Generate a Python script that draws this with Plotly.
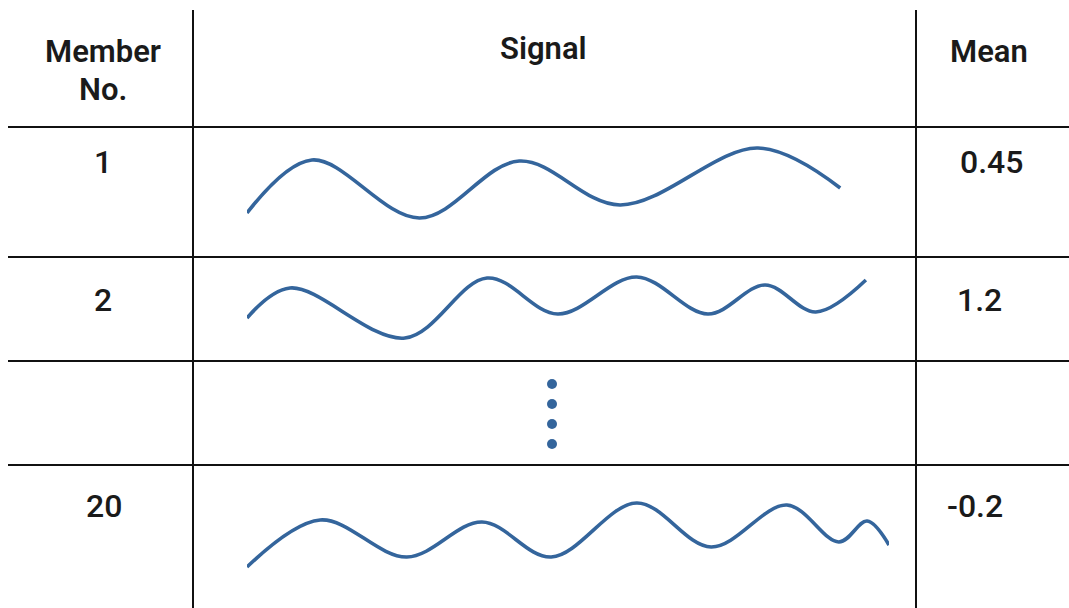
import plotly.graph_objects as go

W, H = 1069, 608

# ---------------- data ----------------
header_lines = [["Member", "No."], ["Signal"], ["Mean"]]
members = ["1", "2", "20"]
means = [0.45, 1.2, -0.2]

# signal turning points (time, amplitude)
sig1_t = [0.0, 1.01, 2.69, 4.24, 5.81, 7.96, 9.24]
sig1_a = [-0.75, 0.575, -0.875, 0.55, -0.55, 0.875, -0.125]

sig2_t = [0.0, 0.67, 2.46, 3.74, 4.84, 6.07, 7.18, 8.07, 8.86, 9.64]
sig2_a = [-0.325, 0.425, -0.825, 0.675, -0.225, 0.7, -0.225, 0.5, -0.175, 0.625]

sig20_t = [0.0, 1.14, 2.49, 3.66, 4.74, 6.07, 7.23, 8.41, 9.22, 9.66, 10.0]
sig20_a = [-0.8, 0.375, -0.55, 0.325, -0.55, 0.8, -0.3, 0.75, -0.175, 0.35, -0.25]

ellipsis_dots = [1, 2, 3, 4]

signals = [(sig1_t, sig1_a), (sig2_t, sig2_a), (sig20_t, sig20_a)]

# ---------------- layout geometry (pixels) ----------------
LINE_COLOR = "#34659c"
TEXT_COLOR = "#1a1a1a"
RULE_COLOR = "#111111"
FONT = "Roboto"

v_rules = [193, 916]
h_rules = [127, 257, 361, 465]
rule_left, rule_right = 8, W
rule_top, rule_bottom = 10, H

# signal rows: (top px, bottom px, baseline px)
sig_rows = [(127, 257, 183), (257, 361, 305), (465, 608, 535)]
t_x0, px_per_t = 247, 64.2
px_per_amp = 40.0

# dot row
dot_row = (361, 465)
dot_px0, dot_px_per = 364, 20
dot_x_center = 552

def fx(px):
    return px / W

def fy(px):
    return 1 - px / H

fig = go.Figure()

# invisible base trace for pixel axes
fig.add_trace(go.Scatter(x=[0, W], y=[0, H], mode="markers",
                         marker=dict(opacity=0), hoverinfo="skip",
                         showlegend=False, xaxis="x", yaxis="y"))

layout_axes = {}
for i, ((t, a), (top, bot, base)) in enumerate(zip(signals, sig_rows)):
    n = i + 2
    fig.add_trace(go.Scatter(
        x=t, y=a, mode="lines",
        line=dict(color=LINE_COLOR, width=3.6, shape="spline", smoothing=1.0),
        xaxis=f"x{n}", yaxis=f"y{n}", showlegend=False, hoverinfo="skip"))
    layout_axes[f"xaxis{n}"] = dict(domain=[fx(t_x0), fx(t_x0 + 10 * px_per_t)],
                                    range=[0, 10], visible=False, anchor=f"y{n}",
                                    fixedrange=True)
    layout_axes[f"yaxis{n}"] = dict(domain=[fy(bot), fy(top)],
                                    range=[(base - bot) / px_per_amp, (base - top) / px_per_amp],
                                    visible=False, anchor=f"x{n}", fixedrange=True)

# ellipsis dots
n = 5
fig.add_trace(go.Scatter(
    x=[0.5] * len(ellipsis_dots), y=ellipsis_dots, mode="markers",
    marker=dict(color=LINE_COLOR, size=10),
    xaxis=f"x{n}", yaxis=f"y{n}", showlegend=False, hoverinfo="skip"))
layout_axes[f"xaxis{n}"] = dict(domain=[fx(dot_x_center - 100), fx(dot_x_center + 100)],
                                range=[0, 1], visible=False, anchor=f"y{n}", fixedrange=True)
layout_axes[f"yaxis{n}"] = dict(domain=[fy(dot_row[1]), fy(dot_row[0])],
                                range=[(dot_row[1] - dot_px0) / dot_px_per,
                                       (dot_row[0] - dot_px0) / dot_px_per],
                                visible=False, anchor=f"x{n}", fixedrange=True)

# grid rules
shapes = []
for y in h_rules:
    shapes.append(dict(type="line", xref="x", yref="y", x0=rule_left, x1=rule_right,
                       y0=y, y1=y, line=dict(color=RULE_COLOR, width=2)))
for x in v_rules:
    shapes.append(dict(type="line", xref="x", yref="y", x0=x, x1=x,
                       y0=rule_top, y1=rule_bottom, line=dict(color=RULE_COLOR, width=2)))

# text
annotations = []
header_pos = [(103, [51.5, 89.5]), (543, [48]), (989, [51])]
for lines, (cx, ys) in zip(header_lines, header_pos):
    for txt, cy in zip(lines, ys):
        annotations.append(dict(text=txt, x=cx, y=cy, xref="x", yref="y",
                                showarrow=False, xanchor="center", yanchor="middle",
                                font=dict(family=FONT, size=31, color=TEXT_COLOR, weight=600)))

member_pos = [(103, 162), (103, 300), (104, 506)]
mean_pos = [(991, 162), (979, 300), (975, 506)]
for m, mv, (mx, my), (vx, vy) in zip(members, means, member_pos, mean_pos):
    annotations.append(dict(text=m, x=mx, y=my, xref="x", yref="y", showarrow=False,
                            xanchor="center", yanchor="middle",
                            font=dict(family=FONT, size=32, color=TEXT_COLOR, weight=500)))
    annotations.append(dict(text=str(mv), x=vx, y=vy, xref="x", yref="y", showarrow=False,
                            xanchor="center", yanchor="middle",
                            font=dict(family=FONT, size=32, color=TEXT_COLOR, weight=500)))

fig.update_layout(
    width=W, height=H,
    margin=dict(l=0, r=0, t=0, b=0),
    paper_bgcolor="white", plot_bgcolor="white",
    xaxis=dict(domain=[0, 1], range=[0, W], visible=False, fixedrange=True),
    yaxis=dict(domain=[0, 1], range=[H, 0], visible=False, fixedrange=True),
    shapes=shapes, annotations=annotations,
    showlegend=False,
    **layout_axes,
)

fig.write_html("out.html", config={"displayModeBar": False},
               post_script="document.body.style.margin='0';document.body.style.overflow='hidden';")
